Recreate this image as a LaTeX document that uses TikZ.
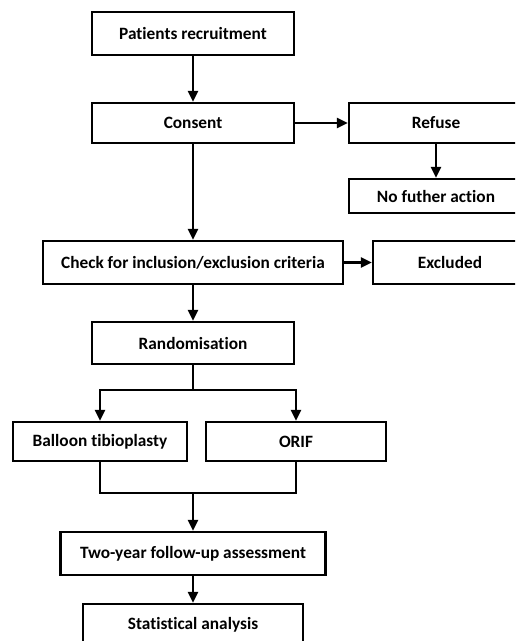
\documentclass[tikz,border=0pt]{standalone}
\usepackage{fontspec}
\setmainfont{Carlito}[RawFeature={-liga}]
\usetikzlibrary{arrows.meta}
\begin{document}
\begin{tikzpicture}[x=1pt,y=-1pt,
  box/.style={draw=black,line width=2.2pt,rectangle,inner sep=0pt,
    font=\fontsize{17.3}{20}\selectfont\bfseries,text=black},
  conn/.style={line width=2.2pt,draw=black},
  arr/.style={conn,-{Triangle[length=11pt,width=10pt]}}]
\useasboundingbox (0,0) rectangle (515,641);
\clip (0,0) rectangle (515,641);
\fill[white] (0,0) rectangle (515,641);
\node[box,minimum width=202pt,minimum height=43pt] (pat) at (193,33.5) {Patients recruitment};
\node[box,minimum width=202pt,minimum height=40pt] (con) at (193,123) {Consent};
\node[box,minimum width=174pt,minimum height=40pt] (ref) at (436,123) {Refuse};
\node[box,minimum width=174pt,minimum height=34pt] (nfa) at (436,196) {No futher action};
\node[box,minimum width=300pt,minimum height=43pt] (chk) at (193,262.5) {Check for inclusion/exclusion criteria};
\node[box,minimum width=154pt,minimum height=43pt] (exc) at (450,262.5) {Excluded};
\node[box,minimum width=202pt,minimum height=42pt] (ran) at (193,343) {Randomisation};
\node[box,minimum width=174pt,minimum height=39pt] (bal) at (100,441.5) {Balloon tibioplasty};
\node[box,minimum width=180pt,minimum height=39pt] (ori) at (296,441.5) {ORIF};
\node[box,minimum width=265pt,minimum height=43pt] (two) at (193,553.5) {Two-year follow-up assessment};
\node[box,minimum width=220pt,minimum height=42pt] (sta) at (193,625) {Statistical analysis};
\coordinate (split) at (193,390);
\coordinate (merge) at (193,493);
\draw[arr] (pat) -- (con);
\draw[arr] (con) -- (ref);
\draw[arr] (ref) -- (nfa);
\draw[arr] (con) -- (chk);
\draw[arr] (chk) -- (exc);
\draw[arr] (chk) -- (ran);
\draw[conn] (ran.south) -- (split);
\draw[arr] (split) -| (bal.north);
\draw[arr] (split) -| (ori.north);
\draw[conn] (bal.south) |- (merge);
\draw[conn] (ori.south) |- (merge);
\draw[arr] (merge) -- (two);
\draw[arr] (two) -- (sta);
\end{tikzpicture}
\end{document}
